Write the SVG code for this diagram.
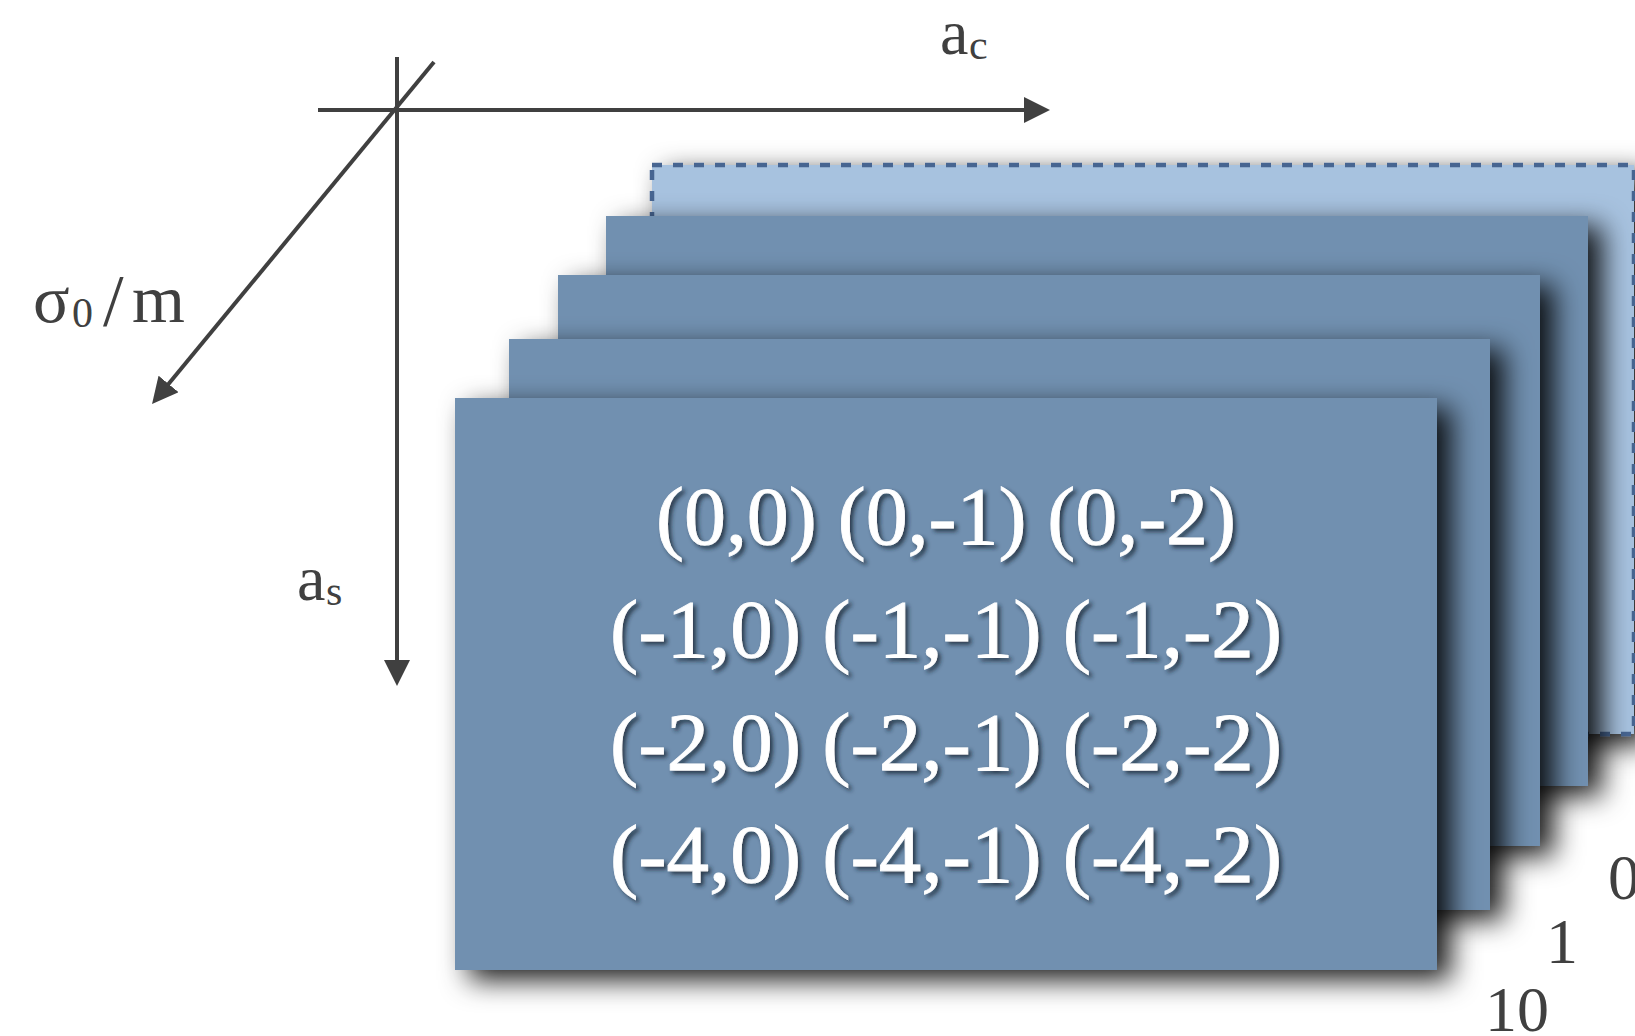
<svg xmlns="http://www.w3.org/2000/svg" width="1635" height="1036" viewBox="0 0 1635 1036">
  <defs>
    <style>
      .layer { fill: #7190B0; filter: url(#rshadow); }
      .back { fill: #A7C2DF; stroke: #466591; stroke-width: 4.5; stroke-dasharray: 10 11; filter: url(#rshadow); }
      .axis { stroke: #404040; stroke-width: 4; fill: none; marker-end: url(#arrow); }
      .lbl { font-family: "Liberation Serif", "DejaVu Serif", serif; fill: #404040; }
      .cell { font-family: "Liberation Serif", "DejaVu Serif", serif; font-size: 83px; fill: #FFFFFF; stroke: #FFFFFF; stroke-width: 0.8; text-anchor: middle; filter: url(#tshadow); }
    </style>
    <filter id="rshadow" x="-10%" y="-10%" width="135%" height="135%">
      <feGaussianBlur in="SourceAlpha" stdDeviation="14"/>
      <feOffset dx="14" dy="10" result="off"/>
      <feFlood flood-color="#000000" flood-opacity="0.9"/>
      <feComposite in2="off" operator="in"/>
      <feMerge><feMergeNode/><feMergeNode in="SourceGraphic"/></feMerge>
    </filter>
    <filter id="tshadow" x="-5%" y="-20%" width="115%" height="150%">
      <feDropShadow dx="3" dy="3" stdDeviation="2" flood-color="#1a2635" flood-opacity="0.8"/>
    </filter>
    <marker id="arrow" viewBox="0 0 26 26" refX="16" refY="13" markerWidth="26" markerHeight="26" markerUnits="userSpaceOnUse" orient="auto">
      <path d="M0,0 L26,13 L0,26 Z" fill="#404040"/>
    </marker>
  </defs>

  <g id="layer-back">
    <rect class="back" x="652" y="165" width="982" height="569"/>
  </g>
  <g id="layer-3">
    <rect class="layer" x="606" y="216" width="982" height="570"/>
  </g>
  <g id="layer-2">
    <rect class="layer" x="558" y="275" width="982" height="571"/>
  </g>
  <g id="layer-1">
    <rect class="layer" x="509" y="339" width="981" height="571"/>
  </g>
  <g id="layer-front">
    <rect class="layer" x="455" y="398" width="982" height="572"/>
    <text class="cell" x="946" y="544" textLength="580" lengthAdjust="spacingAndGlyphs">(0,0) (0,-1) (0,-2)</text>
    <text class="cell" x="946" y="657" textLength="672" lengthAdjust="spacingAndGlyphs">(-1,0) (-1,-1) (-1,-2)</text>
    <text class="cell" x="946" y="770" textLength="672" lengthAdjust="spacingAndGlyphs">(-2,0) (-2,-1) (-2,-2)</text>
    <text class="cell" x="946" y="882" textLength="672" lengthAdjust="spacingAndGlyphs">(-4,0) (-4,-1) (-4,-2)</text>
  </g>

  <g id="connectors">
    <line class="axis" x1="318" y1="110" x2="1040" y2="110"/>
    <line class="axis" x1="397" y1="57" x2="397" y2="676"/>
    <line class="axis" x1="434" y1="62" x2="158.4" y2="396.3"/>
  </g>

  <g id="label-ac">
    <text class="lbl" x="940" y="54" font-size="64">a</text>
    <text class="lbl" x="969" y="59" font-size="42">c</text>
  </g>
  <g id="label-as">
    <text class="lbl" x="297" y="600" font-size="64">a</text>
    <text class="lbl" x="326" y="605" font-size="42">s</text>
  </g>
  <g id="label-sigma">
    <text class="lbl" x="33" y="322" font-size="68">σ</text>
    <text class="lbl" x="72" y="327" font-size="42">0</text>
    <text class="lbl" x="103" y="326" font-size="74">/</text>
    <text class="lbl" x="132" y="322" font-size="68">m</text>
  </g>
  <g id="label-indices">
    <text class="lbl" x="1608" y="899" font-size="64">0</text>
    <text class="lbl" x="1546" y="963" font-size="64">1</text>
    <text class="lbl" x="1485" y="1031" font-size="64">10</text>
  </g>
</svg>
